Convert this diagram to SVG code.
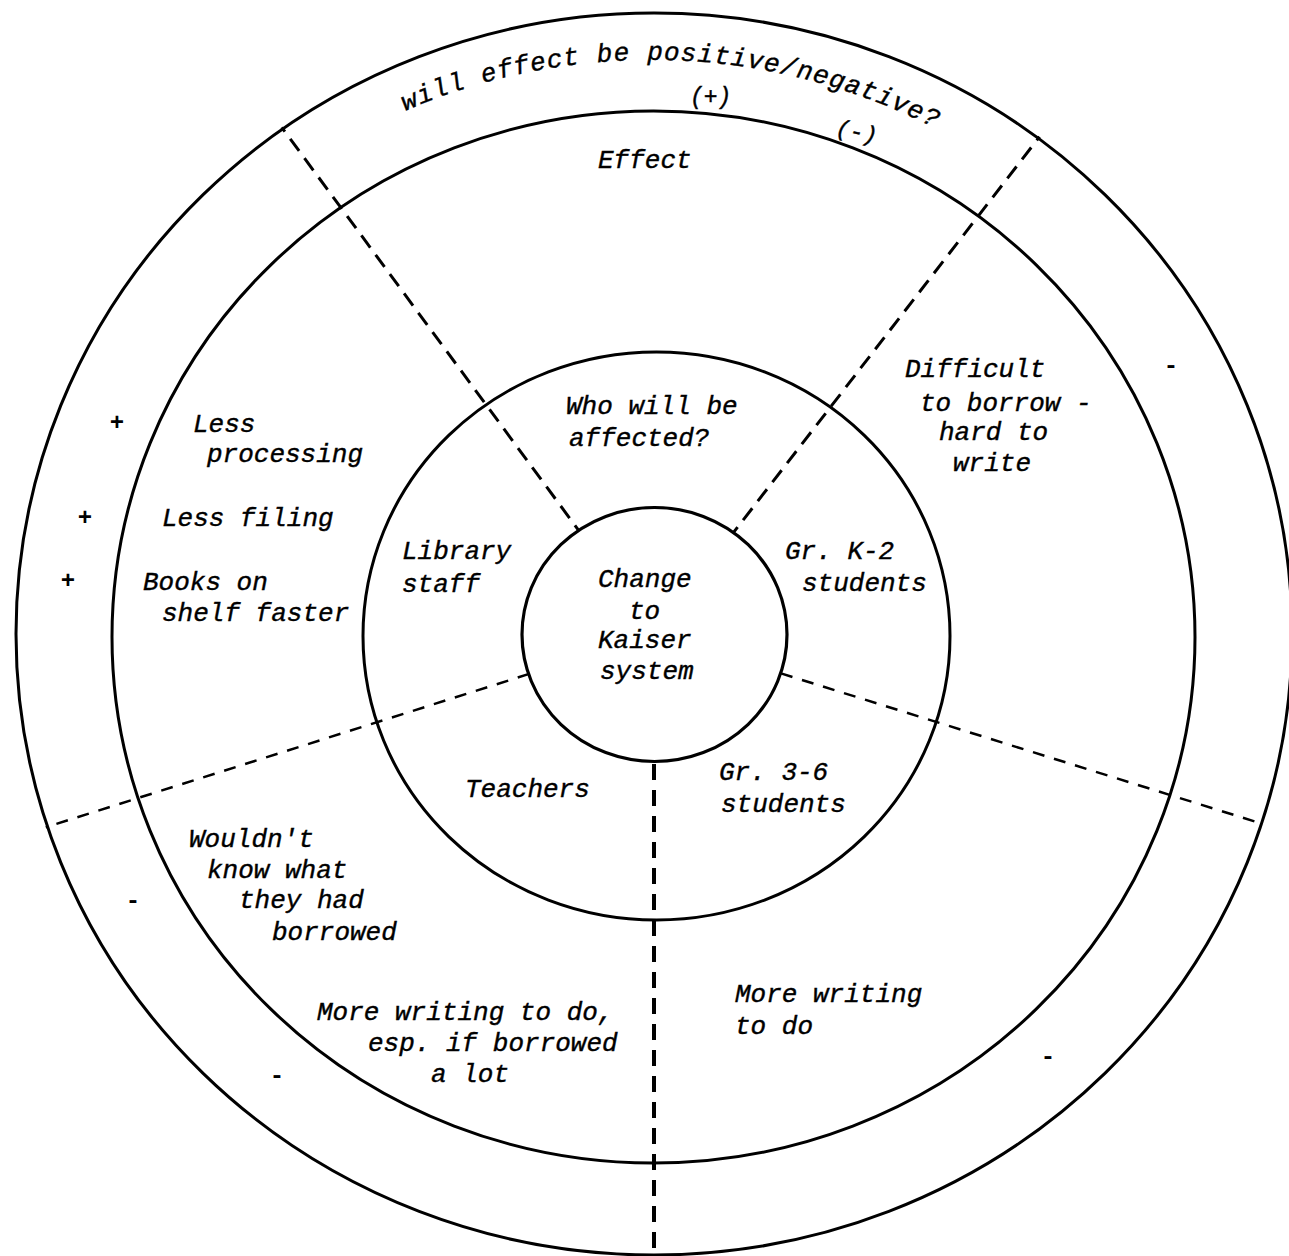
<svg xmlns="http://www.w3.org/2000/svg" width="1289" height="1256" viewBox="0 0 1289 1256">
<style>
.ring{fill:none;stroke:#000;stroke-width:3}
.core{fill:#fff;stroke:#000;stroke-width:3.2}
.t{font-family:"Liberation Mono","DejaVu Sans Mono",monospace;font-style:italic;font-size:26px;fill:#000;stroke:#000;stroke-width:0.4}
.arc{letter-spacing:1px}
.sm{font-size:23px}
.mark{font-family:"Liberation Mono","DejaVu Sans Mono",monospace;font-size:24px;font-weight:bold;fill:#000;text-anchor:middle}
.d1{fill:none;stroke:#000;stroke-width:3;stroke-dasharray:15 9}
.d2{fill:none;stroke:#000;stroke-width:2.5;stroke-dasharray:12 10}
.d3{fill:none;stroke:#000;stroke-width:4;stroke-dasharray:16 10}
</style>
<defs>
<clipPath id="clipOuter"><ellipse cx="654" cy="634" rx="640" ry="623"/></clipPath>
<path id="titleArc" d="M 405 111 A 620 620 0 0 1 1000 167"/>
</defs>
<rect width="1289" height="1256" fill="#fff"/>
<g id="connectors" clip-path="url(#clipOuter)">
<line class="d1" x1="655" y1="634" x2="252" y2="87"/>
<line class="d1" x1="655" y1="634" x2="1078" y2="87"/>
<line class="d2" x1="655" y1="634" x2="-10" y2="845"/>
<line class="d2" x1="655" y1="634" x2="1330" y2="845"/>
<line class="d3" x1="654" y1="634" x2="654" y2="1262"/>
</g>
<g id="ring-valence">
<ellipse class="ring" cx="654" cy="634" rx="638" ry="621"/>
<text class="t arc"><textPath href="#titleArc">will effect be positive/negative?</textPath></text>
<text class="t sm" x="690" y="104">(+)</text>
<text class="t sm" x="836" y="138" transform="rotate(12 852 132)">(-)</text>
<text class="mark" x="117" y="430">+</text>
<text class="mark" x="85" y="525">+</text>
<text class="mark" x="68" y="588">+</text>
<text class="mark" x="1171" y="373">-</text>
<text class="mark" x="133" y="908">-</text>
<text class="mark" x="277" y="1083">-</text>
<text class="mark" x="1048" y="1064">-</text>
</g>
<g id="ring-effect">
<ellipse class="ring" cx="653.5" cy="637" rx="541.5" ry="526"/>
<text class="t" x="598" y="168">Effect</text>
<g id="effect-library">
<text class="t" x="193" y="432">Less</text>
<text class="t" x="207" y="462">processing</text>
<text class="t" x="162" y="526">Less filing</text>
<text class="t" x="143" y="590">Books on</text>
<text class="t" x="162" y="621">shelf faster</text>
</g>
<g id="effect-k2">
<text class="t" x="905" y="377">Difficult</text>
<text class="t" x="920" y="411">to borrow -</text>
<text class="t" x="939" y="440">hard to</text>
<text class="t" x="953" y="471">write</text>
</g>
<g id="effect-teachers">
<text class="t" x="189" y="847">Wouldn't</text>
<text class="t" x="207" y="878">know what</text>
<text class="t" x="239" y="908">they had</text>
<text class="t" x="272" y="940">borrowed</text>
<text class="t" x="317" y="1020">More writing to do,</text>
<text class="t" x="368" y="1051">esp. if borrowed</text>
<text class="t" x="431" y="1082">a lot</text>
</g>
<g id="effect-36">
<text class="t" x="735" y="1002">More writing</text>
<text class="t" x="735" y="1034">to do</text>
</g>
</g>
<g id="ring-affected">
<ellipse class="ring" cx="656.5" cy="636" rx="293.5" ry="284"/>
<text class="t" x="566" y="414">Who will be</text>
<text class="t" x="569" y="446">affected?</text>
<g id="who-library"><text class="t" x="402" y="559">Library</text><text class="t" x="402" y="592">staff</text></g>
<g id="who-k2"><text class="t" x="785" y="559">Gr. K-2</text><text class="t" x="802" y="591">students</text></g>
<g id="who-teachers"><text class="t" x="465" y="797">Teachers</text></g>
<g id="who-36"><text class="t" x="719" y="780">Gr. 3-6</text><text class="t" x="721" y="812">students</text></g>
</g>
<g id="center">
<ellipse class="core" cx="654.5" cy="634.5" rx="132.5" ry="127"/>
<text class="t" x="598" y="587">Change</text>
<text class="t" x="629" y="619">to</text>
<text class="t" x="598" y="648">Kaiser</text>
<text class="t" x="600" y="679">system</text>
</g>
</svg>
